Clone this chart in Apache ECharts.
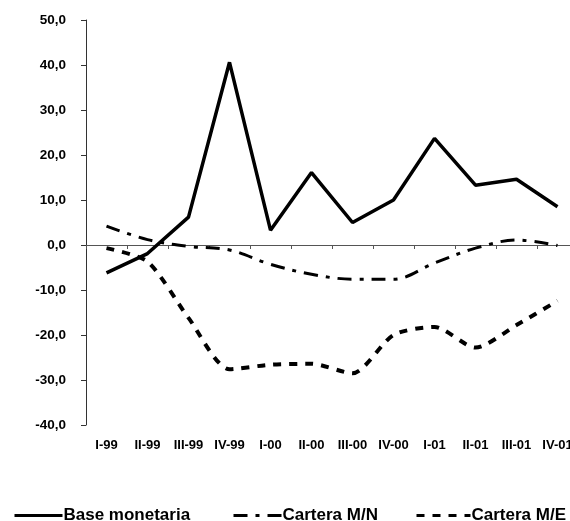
<!DOCTYPE html>
<html>
<head>
<meta charset="utf-8">
<script src="https://cdn.jsdelivr.net/npm/echarts@6/dist/echarts.min.js"></script>
<style>html,body{margin:0;padding:0;background:#fff;overflow:hidden;width:570px;height:521px}#c{width:578px;height:521px}</style>
</head>
<body>
<div id="c"></div>
<script>
var categories = ['I-99','II-99','III-99','IV-99','I-00','II-00','III-00','IV-00','I-01','II-01','III-01','IV-01'];
var baseMonetaria = [-6.2, -1.9, 6.2, 40.6, 3.3, 16.1, 5.0, 10.0, 23.7, 13.3, 14.6, 8.5];
var carteraMN = [4.2, 1.2, -0.3, -1.1, -4.3, -6.5, -7.6, -7.6, -4.0, -0.7, 1.1, -0.1];
var carteraME = [-0.7, -3.7, -16.2, -27.6, -26.6, -26.4, -28.5, -20.0, -18.2, -22.8, -17.8, -12.4];

var chart = echarts.init(document.getElementById('c'));
var font = 'Liberation Sans, Arial, sans-serif';
function legend(name, left, w) {
  return {
    data: [name], left: left, top: 502, itemWidth: w, itemHeight: 14, itemGap: 0,
    itemStyle: {opacity: 0},
    lineStyle: {width: 3},
    textStyle: {fontFamily: font, fontWeight: 'bold', fontSize: 17, color: '#000', padding: [0,0,0,-4]}
  };
}
chart.setOption({
  animation: false,
  grid: {left: 86, top: 20, right: 0, bottom: 96, containLabel: false},
  legend: [legend('Base monetaria', 8, 48), legend('Cartera M/N', 227, 48), legend('Cartera M/E', 410, 54)],
  xAxis: [
    {type: 'category', data: categories, position: 'bottom',
     axisLine: {show: false, onZero: false}, axisTick: {show: false},
     axisLabel: {fontFamily: font, fontWeight: 'bold', fontSize: 13, color: '#000', margin: 14, interval: 0}},
    {type: 'category', data: categories, position: 'top',
     axisLine: {show: true, onZero: true, lineStyle: {color: '#555', width: 1}},
     axisTick: {show: true, inside: true, length: 4, lineStyle: {color: '#555'}},
     axisLabel: {show: false}}
  ],
  yAxis: {type: 'value', min: -40, max: 50, interval: 10,
    axisLine: {show: true, lineStyle: {color: '#333', width: 1}},
    axisTick: {show: true, length: 5, lineStyle: {color: '#333'}},
    splitLine: {show: false},
    axisLabel: {fontFamily: font, fontWeight: 'bold', fontSize: 13.5, color: '#000', margin: 20,
      formatter: function (v) { return v.toFixed(1).replace('.', ','); }}},
  series: [
    {name: 'Base monetaria', type: 'line', data: baseMonetaria, symbol: 'none',
     lineStyle: {color: '#000', width: 3.5}, itemStyle: {color: '#000'}},
    {name: 'Cartera M/N', type: 'line', data: carteraMN, symbol: 'none', smooth: 0.35,
     lineStyle: {color: '#000', width: 3, type: [14, 8, 4, 8]}, itemStyle: {color: '#000'}},
    {name: 'Cartera M/E', type: 'line', data: carteraME, symbol: 'none', smooth: 0.25,
     lineStyle: {color: '#000', width: 4, type: [8, 8]}, itemStyle: {color: '#000'}}
  ]
});
</script>
</body>
</html>
